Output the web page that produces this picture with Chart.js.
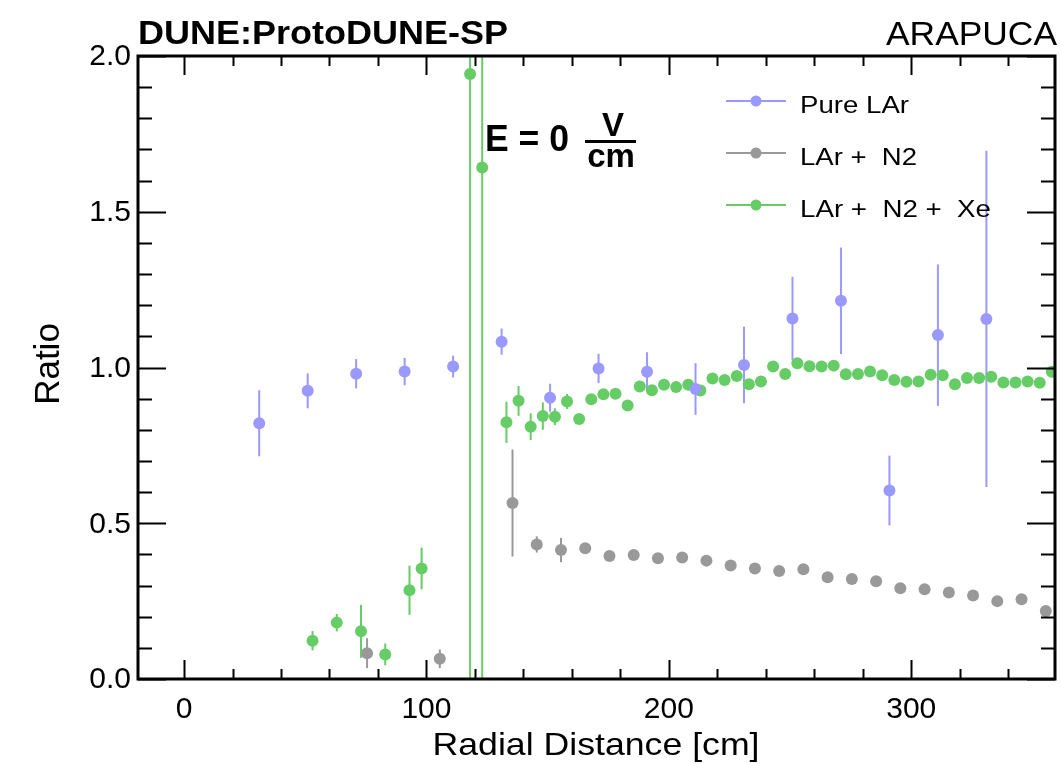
<!DOCTYPE html>
<html>
<head>
<meta charset="utf-8">
<title>ARAPUCA ratio vs radial distance</title>
<script src="https://cdn.jsdelivr.net/npm/chart.js@4/dist/chart.umd.min.js"></script>
<style>
  body { margin: 0; background: #fff; }
  #wrap { width: 1061px; height: 764px; }
</style>
</head>
<body>
<div id="wrap"><canvas id="c" width="1061" height="764"></canvas></div>
<script>
// values
const pureX = [31, 51, 71, 91, 111, 131, 151, 171, 191, 211, 231, 251, 271, 291, 311, 331];
const pureY = [0.821, 0.925, 0.980, 0.987, 1.003, 1.083, 0.903, 0.997, 0.986, 0.931, 1.008, 1.157, 1.214, 0.605, 1.104, 1.156];
const pureErr = [0.106, 0.056, 0.047, 0.044, 0.035, 0.042, 0.045, 0.047, 0.063, 0.083, 0.123, 0.134, 0.171, 0.112, 0.227, 0.54];

const n2X = [75.5, 105.5, 135.5, 145.5, 155.5, 165.5, 175.5, 185.5, 195.5, 205.5, 215.5, 225.5, 235.5,
  245.5, 255.5, 265.5, 275.5, 285.5, 295.5, 305.5, 315.5, 325.5, 335.5, 345.5, 355.5];
const n2Y = [0.083, 0.065, 0.565, 0.432, 0.414, 0.420, 0.395, 0.398, 0.388, 0.390, 0.380, 0.364, 0.355,
  0.347, 0.352, 0.327, 0.321, 0.314, 0.291, 0.288, 0.278, 0.268, 0.250, 0.256, 0.218];
const n2Err = [0.048, 0.030, 0.172, 0.026, 0.039, 0.012, 0.010, 0.010, 0.010, 0.010, 0.010, 0.010, 0.010,
  0.010, 0.010, 0.010, 0.010, 0.010, 0.010, 0.010, 0.010, 0.010, 0.010, 0.010, 0.010];

const xeX = [53, 63, 73, 83, 93, 98, 118, 123,
  133, 138, 143, 148, 153, 158, 163, 168, 173, 178, 183, 188, 193, 198, 203, 208, 213, 218, 223, 228,
  233, 238, 243, 248, 253, 258, 263, 268, 273, 278, 283, 288, 293, 298, 303, 308, 313, 318, 323, 328,
  333, 338, 343, 348, 353, 358];
const xeY = [0.123, 0.181, 0.153, 0.079, 0.285, 0.355, 1.942, 1.642,
  0.824, 0.893, 0.810, 0.844, 0.842, 0.891, 0.835, 0.898, 0.914, 0.916, 0.878, 0.939, 0.927, 0.945, 0.937, 0.945, 0.926, 0.965, 0.960, 0.973,
  0.946, 0.955, 1.003, 0.979, 1.014, 1.004, 1.003, 1.006, 0.978, 0.979, 0.987, 0.975, 0.960, 0.954, 0.955, 0.977, 0.975, 0.946, 0.966, 0.966,
  0.970, 0.952, 0.952, 0.955, 0.951, 0.986];
const xeErr = [0.031, 0.028, 0.085, 0.035, 0.079, 0.067, 2.5, 2.5,
  0.066, 0.048, 0.043, 0.044, 0.027, 0.024, 0.015, 0.010, 0.010, 0.010, 0.010, 0.010, 0.010, 0.010, 0.010, 0.010, 0.010, 0.010, 0.010, 0.010,
  0.010, 0.010, 0.010, 0.010, 0.010, 0.010, 0.010, 0.010, 0.010, 0.010, 0.010, 0.010, 0.010, 0.010, 0.010, 0.010, 0.010, 0.010, 0.010, 0.010,
  0.010, 0.010, 0.010, 0.010, 0.010, 0.010];

const seriesNames = ['Pure LAr', 'LAr +  N2', 'LAr +  N2 +  Xe'];
const seriesColors = ['rgb(153,153,255)', 'rgb(153,153,153)', 'rgb(102,204,102)'];

const xMajorTicks = [0, 100, 200, 300];
const yMajorTicks = [0, 0.5, 1.0, 1.5, 2.0];
const yTickLabels = ['0.0', '0.5', '1.0', '1.5', '2.0'];

const FONT = '"Liberation Sans", Arial, Helvetica, sans-serif';

function pts(xs, ys) {
  return xs.map((x, i) => ({ x: x, y: ys[i] }));
}

// draw text squeezed/stretched to a given width
function fitText(ctx, str, x, y, font, width, align) {
  ctx.save();
  ctx.font = font;
  const w = ctx.measureText(str).width;
  const sx = width ? width / w : 1;
  ctx.translate(x, y);
  ctx.scale(sx, 1);
  ctx.textAlign = align || 'left';
  ctx.textBaseline = 'alphabetic';
  ctx.fillText(str, 0, 0);
  ctx.restore();
}

const errorBars = {
  id: 'errorBars',
  beforeDatasetsDraw(chart) {
    const ctx = chart.ctx;
    const xs = chart.scales.x, ys = chart.scales.y;
    const a = chart.chartArea;
    ctx.save();
    ctx.beginPath();
    ctx.rect(a.left, a.top, a.right - a.left, a.bottom - a.top);
    ctx.clip();
    chart.data.datasets.forEach(ds => {
      ctx.strokeStyle = ds.backgroundColor;
      ctx.lineWidth = 2;
      ds.data.forEach((p, i) => {
        const e = ds.errors[i];
        const px = xs.getPixelForValue(p.x);
        ctx.beginPath();
        ctx.moveTo(px, ys.getPixelForValue(p.y - e));
        ctx.lineTo(px, ys.getPixelForValue(p.y + e));
        ctx.stroke();
      });
    });
    ctx.restore();
  }
};

const frameAndText = {
  id: 'frameAndText',
  afterDraw(chart) {
    const ctx = chart.ctx;
    const xs = chart.scales.x, ys = chart.scales.y;
    const a = chart.chartArea;
    ctx.save();
    ctx.strokeStyle = '#000';
    ctx.fillStyle = '#000';

    // ticks, ROOT style: inside on all four sides
    ctx.lineWidth = 2;
    for (let v = 0; v <= xs.max; v += 20) {
      const px = Math.round(xs.getPixelForValue(v)) + 0.5;
      const len = v % 100 === 0 ? 19 : 10;
      ctx.beginPath();
      ctx.moveTo(px, a.bottom); ctx.lineTo(px, a.bottom - len);
      ctx.moveTo(px, a.top); ctx.lineTo(px, a.top + len);
      ctx.stroke();
    }
    for (let k = 0; k <= 20; k++) {
      const py = Math.round(ys.getPixelForValue(k / 10)) + 0.5;
      const len = k % 5 === 0 ? 28 : 14;
      ctx.beginPath();
      ctx.moveTo(a.left, py); ctx.lineTo(a.left + len, py);
      ctx.moveTo(a.right, py); ctx.lineTo(a.right - len, py);
      ctx.stroke();
    }
    ctx.lineWidth = 3;
    ctx.strokeRect(a.left, a.top, a.right - a.left, a.bottom - a.top);

    // tick labels
    ctx.font = '30px ' + FONT;
    ctx.textAlign = 'right';
    ctx.textBaseline = 'middle';
    yMajorTicks.forEach((v, i) => {
      ctx.fillText(yTickLabels[i], a.left - 7, ys.getPixelForValue(v) + 1);
    });
    ctx.textAlign = 'center';
    ctx.textBaseline = 'alphabetic';
    xMajorTicks.forEach(v => {
      ctx.fillText(String(v), xs.getPixelForValue(v), 718);
    });

    // axis titles
    fitText(ctx, 'Radial Distance [cm]', 596, 755, '32px ' + FONT, 327, 'center');
    ctx.save();
    ctx.translate(59, 364);
    ctx.rotate(-Math.PI / 2);
    ctx.font = '35px ' + FONT;
    ctx.textAlign = 'center';
    ctx.fillText('Ratio', 0, 0);
    ctx.restore();

    // header
    fitText(ctx, 'DUNE:ProtoDUNE-SP', 138, 44, 'bold 33px ' + FONT, 370, 'left');
    fitText(ctx, 'ARAPUCA', 1057, 45, '33px ' + FONT, 171, 'right');

    // field label E = 0 V/cm
    fitText(ctx, 'E = 0', 485, 151, 'bold 36px ' + FONT, 84, 'left');
    fitText(ctx, 'V', 613, 136, 'bold 33px ' + FONT, 0, 'center');
    ctx.lineWidth = 3;
    ctx.beginPath();
    ctx.moveTo(585, 141.5); ctx.lineTo(636, 141.5);
    ctx.stroke();
    fitText(ctx, 'cm', 611, 167, 'bold 33px ' + FONT, 0, 'center');

    // legend
    const legendY = [101, 153, 205];
    const legendW = [109, 117, 191];
    seriesNames.forEach((name, i) => {
      ctx.strokeStyle = seriesColors[i];
      ctx.fillStyle = seriesColors[i];
      ctx.lineWidth = 2;
      ctx.beginPath();
      ctx.moveTo(726, legendY[i]); ctx.lineTo(786, legendY[i]);
      ctx.stroke();
      ctx.beginPath();
      ctx.arc(756, legendY[i], 5.5, 0, Math.PI * 2);
      ctx.fill();
      ctx.fillStyle = '#000';
      fitText(ctx, name, 800, legendY[i] + 12, '24.5px ' + FONT, legendW[i], 'left');
    });
    ctx.restore();
  }
};

new Chart(document.getElementById('c'), {
  type: 'scatter',
  data: {
    datasets: [
      { label: seriesNames[0], data: pts(pureX, pureY), errors: pureErr, backgroundColor: seriesColors[0] },
      { label: seriesNames[1], data: pts(n2X, n2Y), errors: n2Err, backgroundColor: seriesColors[1] },
      { label: seriesNames[2], data: pts(xeX, xeY), errors: xeErr, backgroundColor: seriesColors[2] }
    ]
  },
  options: {
    responsive: false,
    animation: false,
    layout: { padding: { left: 0, right: 5, top: 56, bottom: 0 } },
    elements: { point: { radius: 6, borderWidth: 0, hoverRadius: 6 } },
    scales: {
      x: {
        type: 'linear',
        min: -19,
        max: 359.3,
        ticks: { display: false },
        grid: { display: false },
        border: { display: false },
        afterFit: s => { s.height = 85; }
      },
      y: {
        min: 0,
        max: 2,
        ticks: { display: false },
        grid: { display: false },
        border: { display: false },
        afterFit: s => { s.width = 138; }
      }
    },
    plugins: {
      legend: { display: false },
      tooltip: { enabled: false }
    }
  },
  plugins: [errorBars, frameAndText]
});
</script>
</body>
</html>
